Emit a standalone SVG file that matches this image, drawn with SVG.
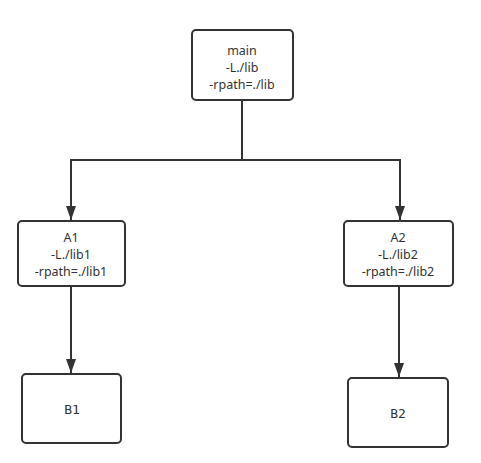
<svg xmlns="http://www.w3.org/2000/svg" width="481" height="463" viewBox="0 0 481 463">
<defs>
<style>
.box{fill:#fff;stroke:#333;stroke-width:2}
.t{font-family:"Noto Sans","Liberation Sans",sans-serif;font-size:12.5px;fill:#333;text-anchor:middle}
.m{font-family:"DejaVu Sans Mono","Liberation Mono",monospace;font-size:13px;fill:#333;text-anchor:middle}
.c{fill:none;stroke:#333;stroke-width:2}
</style>
<marker id="ah" markerWidth="14" markerHeight="10" refX="14" refY="5" orient="auto" markerUnits="userSpaceOnUse" viewBox="0 0 14 10">
<path d="M0,0 L14,5 L0,10 Z" fill="#333"/>
</marker>
</defs>
<rect width="481" height="463" fill="#fff"/>
<g id="connectors">
<path class="c" d="M242,100 V160 H71 V220" marker-end="url(#ah)"/>
<path class="c" d="M242,160 H400 V220" marker-end="url(#ah)"/>
<path class="c" d="M71,286 V373" marker-end="url(#ah)"/>
<path class="c" d="M399,286 V377" marker-end="url(#ah)"/>
</g>
<g id="main">
<rect class="box" x="192" y="30" width="101" height="70" rx="4"/>
<text class="t" x="242" y="55">main</text>
<text class="t" x="242" y="72">-L./lib</text>
<text class="t" x="242" y="89">-rpath=./lib</text>
</g>
<g id="A1">
<rect class="box" x="18" y="221" width="107" height="65" rx="4"/>
<text class="t" x="71" y="242">A1</text>
<text class="t" x="71" y="259">-L./lib1</text>
<text class="t" x="71" y="276">-rpath=./lib1</text>
</g>
<g id="A2">
<rect class="box" x="344" y="221" width="109" height="65" rx="4"/>
<text class="t" x="398" y="242">A2</text>
<text class="t" x="398" y="259">-L./lib2</text>
<text class="t" x="398" y="276">-rpath=./lib2</text>
</g>
<g id="B1">
<rect class="box" x="22" y="374" width="99" height="69" rx="4"/>
<text class="m" x="72" y="414">B1</text>
</g>
<g id="B2">
<rect class="box" x="348" y="378" width="100" height="69" rx="4"/>
<text class="m" x="398" y="418">B2</text>
</g>
</svg>
